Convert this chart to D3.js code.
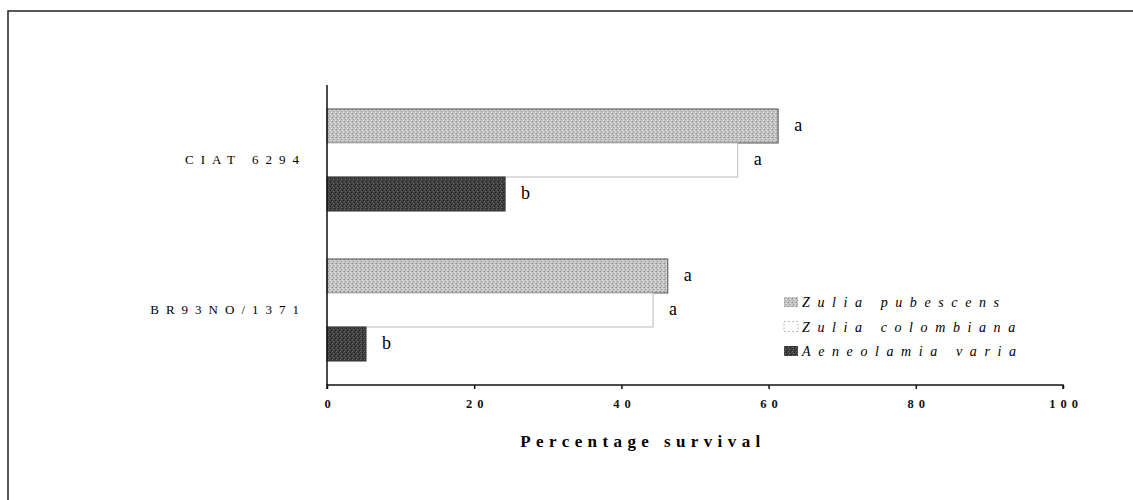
<!DOCTYPE html>
<meta charset="utf-8">
<style>
  body { margin: 0; background: white; }
  .tick text { font-family: "Liberation Serif", serif; font-weight: bold; font-size: 12.5px; letter-spacing: 5px; }
  .cat { font-family: "Liberation Serif", serif; font-size: 13px; letter-spacing: 7px; text-anchor: end; }
  .sig { font-family: "Liberation Serif", serif; font-size: 18px; }
  .leg { font-family: "Liberation Serif", serif; font-style: italic; font-size: 14px; letter-spacing: 7.6px; }
  .title { font-family: "Liberation Serif", serif; font-weight: bold; font-size: 17px; letter-spacing: 5.4px; text-anchor: middle; }
</style>
<script src="https://cdn.jsdelivr.net/npm/d3@7"></script>
<body>
<script>

  var w = 1133;
  var h = 500;

  var categories = ["CIAT 6294", "BR93NO/1371"];
  var series = ["Zulia pubescens", "Zulia colombiana", "Aeneolamia varia"];
  var pubescens = [61.3, 46.3];
  var colombiana = [55.8, 44.3];
  var varia = [24.2, 5.3];
  var letters = [["a", "a", "b"], ["a", "a", "b"]];
  var ticks = [0, 20, 40, 60, 80, 100];

  var values = [pubescens, colombiana, varia];

  var svg = d3.select("body").append("svg")
              .attr("width", w)
              .attr("height", h);

  // speckled fills like the scanned original
  var defs = svg.append("defs");
  function speckle(id, base, dots) {
    var p = defs.append("pattern").attr("id", id)
                .attr("width", 4).attr("height", 4)
                .attr("patternUnits", "userSpaceOnUse");
    p.append("rect").attr("width", 4).attr("height", 4).attr("fill", base);
    dots.forEach(function (d) {
      p.append("rect").attr("x", d[0]).attr("y", d[1])
       .attr("width", 1).attr("height", 1).attr("fill", d[2]);
    });
  }
  speckle("lightPat", "#c4c4c4", [[0,0,"#8a8a8a"],[2,1,"#e6e6e6"],[1,2,"#9a9a9a"],[3,3,"#e0e0e0"],[3,0,"#a8a8a8"]]);
  speckle("darkPat", "#3c3c3c", [[0,0,"#6a6a6a"],[2,1,"#222"],[1,2,"#777"],[3,3,"#2a2a2a"],[3,1,"#555"]]);

  var fills = ["url(#lightPat)", "white", "url(#darkPat)"];
  var strokes = ["#555", "#bbb", "#333"];

  // frame
  svg.append("path")
     .attr("d", "M8,500 L8,11 L1133,11")
     .attr("fill", "none")
     .attr("stroke", "#222")
     .attr("stroke-width", 1.5);

  var x = d3.scaleLinear().domain([0, 100]).range([327, 1063]);
  var y0 = d3.scaleBand().domain(categories).range([85, 385]).paddingInner(0.32).paddingOuter(0.16);
  var y1 = d3.scaleBand().domain(series).range([0, y0.bandwidth()]);

  var groups = svg.selectAll("g.grp")
                  .data(categories)
                  .enter()
                  .append("g")
                  .attr("class", "grp")
                  .attr("transform", function (d) { return "translate(0," + y0(d) + ")"; });

  function rows(d, ci) {
    return series.map(function (s, si) {
      return { s: s, si: si, v: values[si][ci], l: letters[ci][si] };
    });
  }

  groups.selectAll("rect")
        .data(rows)
        .enter()
        .append("rect")
        .attr("x", x(0))
        .attr("y", function (d) { return y1(d.s); })
        .attr("width", function (d) { return x(d.v) - x(0); })
        .attr("height", y1.bandwidth())
        .attr("fill", function (d) { return fills[d.si]; })
        .attr("stroke", function (d) { return strokes[d.si]; })
        .attr("stroke-width", 1);

  groups.selectAll("text.sig")
        .data(rows)
        .enter()
        .append("text")
        .attr("class", "sig")
        .attr("x", function (d) { return x(d.v) + 16; })
        .attr("y", function (d) { return y1(d.s) + y1.bandwidth() / 2 + 5; })
        .text(function (d) { return d.l; });

  // category labels
  svg.selectAll("text.cat")
     .data(categories)
     .enter()
     .append("text")
     .attr("class", "cat")
     .attr("x", 306)
     .attr("y", function (d) { return y0(d) + y0.bandwidth() / 2 + 4; })
     .text(function (d) { return d; });

  // y axis line
  svg.append("line")
     .attr("x1", x(0)).attr("x2", x(0))
     .attr("y1", 85).attr("y2", 385)
     .attr("stroke", "#111").attr("stroke-width", 1.5);

  // x axis
  var xAxis = d3.axisBottom(x).tickValues(ticks).tickSize(4).tickPadding(10).tickFormat(d3.format("d"));
  var gx = svg.append("g")
              .attr("transform", "translate(0,385)")
              .call(xAxis);
  gx.select(".domain").attr("stroke", "#111").attr("stroke-width", 1.5)
    .attr("d", "M" + x(0) + ",4V0H" + x(100) + "V4");
  gx.selectAll(".tick line").attr("stroke", "#111").attr("stroke-width", 1.5);
  gx.selectAll(".tick text").attr("fill", "#111").attr("dx", "2.5px");

  svg.append("text")
     .attr("class", "title")
     .attr("x", 643)
     .attr("y", 447)
     .text("Percentage survival");

  // legend
  var leg = svg.selectAll("g.leg")
               .data(series)
               .enter()
               .append("g")
               .attr("class", "leg")
               .attr("transform", function (d, i) { return "translate(784," + (302 + i * 24.5) + ")"; });
  leg.append("rect")
     .attr("x", 0).attr("y", -5)
     .attr("width", 14).attr("height", 10)
     .attr("fill", function (d, i) { return fills[i]; })
     .attr("stroke", function (d, i) { return i === 1 ? "#bbb" : "none"; })
     .attr("stroke-dasharray", function (d, i) { return i === 1 ? "2,2" : null; });
  leg.append("text")
     .attr("x", 18)
     .attr("y", 5)
     .text(function (d) { return d; });

</script>
</body>
